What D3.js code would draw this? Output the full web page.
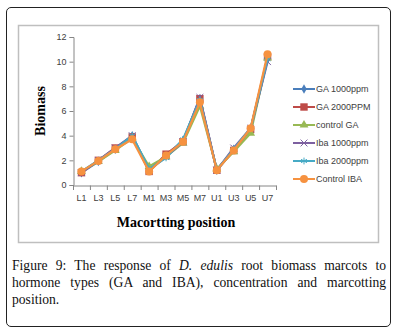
<!DOCTYPE html>
<html>
<head>
<meta charset="utf-8">
<script src="https://d3js.org/d3.v7.min.js"></script>
<style>
  body { margin: 0; background: #fff; }
  #frame {
    position: absolute; left: 6px; top: 7px; width: 385px; height: 320px;
    border: 1px solid #222; border-radius: 5px; box-sizing: border-box;
  }
  #caption {
    position: absolute; left: 12px; top: 257px; width: 374px;
    font-family: "Liberation Serif", "Times New Roman", serif;
    font-size: 13.6px; line-height: 17px; color: #111;
  }
  #caption .j { text-align: justify; text-align-last: justify; }
  svg { position: absolute; left: 0; top: 0; }
</style>
</head>
<body>
<div id="frame"></div>
<div id="caption">
  <div class="j">Figure 9: The response of <i>D. edulis</i> root biomass marcots to</div>
  <div class="j">hormone types (GA and IBA), concentration and marcotting</div>
  <div>position.</div>
</div>
<script>
var positions = ["L1","L3","L5","L7","M1","M3","M5","M7","U1","U3","U5","U7"];
var yTicks = [0, 2, 4, 6, 8, 10, 12];

var ga1000  = [1.0, 1.9, 2.9, 4.0, 1.2, 2.4, 3.6, 7.0, 1.2, 2.9, 4.5, 10.2];
var ga2000  = [1.0, 2.0, 3.0, 3.9, 1.1, 2.5, 3.5, 7.0, 1.2, 2.8, 4.5, 10.4];
var ctrlGA  = [1.1, 1.9, 2.8, 3.8, 1.5, 2.3, 3.4, 6.4, 1.3, 2.7, 4.2, 10.3];
var iba1000 = [1.0, 2.0, 3.0, 4.0, 1.2, 2.3, 3.5, 7.1, 1.2, 3.0, 4.6, 10.0];
var iba2000 = [1.1, 2.0, 2.9, 4.0, 1.3, 2.2, 3.7, 6.9, 1.2, 2.9, 4.6, 10.2];
var ctrlIBA = [1.1, 1.95, 2.9, 3.7, 1.1, 2.4, 3.5, 6.7, 1.2, 2.8, 4.6, 10.6];

var series = [
  {name: "GA 1000ppm",  values: ga1000,  color: "#4a7ebb", marker: "diamond"},
  {name: "GA 2000PPM",  values: ga2000,  color: "#be4b48", marker: "square"},
  {name: "control GA",  values: ctrlGA,  color: "#98b954", marker: "triangle"},
  {name: "Iba 1000ppm", values: iba1000, color: "#7d60a0", marker: "x"},
  {name: "Iba 2000ppm", values: iba2000, color: "#46aac5", marker: "star"},
  {name: "Control IBA", values: ctrlIBA, color: "#f69240", marker: "circle"}
];

var svg = d3.select("body").append("svg").attr("width", 410).attr("height", 335);

// inner chart border
svg.append("rect").attr("x", 18.5).attr("y", 25.5).attr("width", 360).attr("height", 217)
  .attr("fill", "#fff").attr("stroke", "#bfbfbf").attr("stroke-width", 1.5);

var x = d3.scaleBand().domain(positions).range([73, 276]);
var y = d3.scaleLinear().domain([0, 12]).range([185, 37]);

var g = svg.append("g");

// y axis
var yAxis = g.append("g").attr("transform", "translate(73.5,0)")
  .call(d3.axisLeft(y).tickValues(yTicks).tickSize(4));
yAxis.select(".domain").attr("stroke", "#868686");
yAxis.selectAll(".tick line").attr("stroke", "#868686");
yAxis.selectAll("text").attr("fill", "#404040").style("font-family", "Liberation Sans, Arial, sans-serif")
  .style("font-size", "9px").attr("x", -7);

// x axis
var xAxis = g.append("g").attr("transform", "translate(0,185.5)")
  .call(d3.axisBottom(x).tickSize(0).tickPadding(9));
xAxis.select(".domain").attr("stroke", "#868686");
xAxis.selectAll("text").attr("fill", "#404040").style("font-family", "Liberation Sans, Arial, sans-serif")
  .style("font-size", "9px");
// boundary ticks between categories
g.selectAll(".bt").data(positions.concat(["end"])).enter().append("line")
  .attr("x1", function (d, i) { return 73.5 + i * x.step(); })
  .attr("x2", function (d, i) { return 73.5 + i * x.step(); })
  .attr("y1", 185.5).attr("y2", 190).attr("stroke", "#868686");

// titles
svg.append("text").attr("transform", "translate(45,111) rotate(-90)")
  .attr("text-anchor", "middle").style("font-family", "Liberation Serif, serif")
  .style("font-weight", "bold").style("font-size", "14px").text("Biomass");
svg.append("text").attr("x", 176).attr("y", 227).attr("text-anchor", "middle")
  .style("font-family", "Liberation Serif, serif").style("font-weight", "bold")
  .style("font-size", "14px").text("Macortting position");

var line = d3.line()
  .x(function (d, i) { return x(positions[i]) + x.bandwidth() / 2; })
  .y(function (d) { return y(d); });

function drawMarker(sel, s, cx, cy) {
  var m = s.marker;
  var t = "translate(" + cx + "," + cy + ")";
  if (m === "diamond") {
    sel.append("path").attr("d", d3.symbol(d3.symbolDiamond, 26)()).attr("transform", t).attr("fill", s.color);
  } else if (m === "square") {
    sel.append("rect").attr("x", cx - 3.7).attr("y", cy - 3.7).attr("width", 7.4).attr("height", 7.4).attr("fill", s.color);
  } else if (m === "triangle") {
    sel.append("path").attr("d", d3.symbol(d3.symbolTriangle, 34)()).attr("transform", t).attr("fill", s.color);
  } else if (m === "x") {
    sel.append("path").attr("d", d3.symbol(d3.symbolX, 32)()).attr("transform", t)
      .attr("fill", "none").attr("stroke", s.color).attr("stroke-width", 1);
  } else if (m === "star") {
    sel.append("path").attr("d", d3.symbol(d3.symbolAsterisk, 32)()).attr("transform", t)
      .attr("fill", "none").attr("stroke", s.color).attr("stroke-width", 1);
  } else {
    sel.append("circle").attr("cx", cx).attr("cy", cy).attr("r", 4).attr("fill", s.color);
  }
}

series.forEach(function (s) {
  g.append("path").datum(s.values).attr("d", line)
    .attr("fill", "none").attr("stroke", s.color).attr("stroke-width", 2.2);
  s.values.forEach(function (v, i) {
    drawMarker(g, s, x(positions[i]) + x.bandwidth() / 2, y(v));
  });
});

// legend
var leg = svg.append("g");
series.forEach(function (s, i) {
  var ly = 89 + i * 18;
  leg.append("line").attr("x1", 293).attr("x2", 315).attr("y1", ly).attr("y2", ly)
    .attr("stroke", s.color).attr("stroke-width", 2);
  drawMarker(leg, s, 304, ly);
  leg.append("text").attr("x", 316).attr("y", ly + 3.2).attr("fill", "#404040")
    .style("font-family", "Liberation Sans, Arial, sans-serif").style("font-size", "9px").text(s.name);
});
</script>
</body>
</html>
